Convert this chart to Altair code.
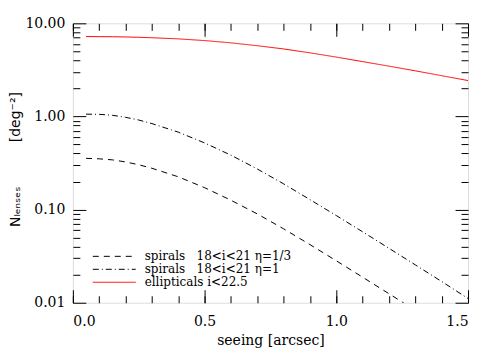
import altair as alt
import pandas as pd

# seeing values (arcsec)
seeing = [0.05, 0.1, 0.15, 0.2, 0.25, 0.3, 0.4, 0.5, 0.6, 0.7, 0.8, 0.9, 1.0, 1.1, 1.2, 1.3, 1.4, 1.5]

# N_lenses [deg^-2]
spirals_eta13 = [0.355, 0.351, 0.342, 0.325, 0.303, 0.278, 0.225, 0.172, 0.126, 0.0899, 0.0622, 0.0421, 0.0282, 0.0188, 0.0125, 0.00828, 0.0056, 0.0037]
spirals_eta1 = [1.059, 1.054, 1.030, 0.979, 0.916, 0.839, 0.679, 0.520, 0.384, 0.273, 0.189, 0.128, 0.0863, 0.0577, 0.0384, 0.0255, 0.0169, 0.0111]
ellipticals = [7.21, 7.19, 7.18, 7.14, 7.08, 7.00, 6.81, 6.53, 6.17, 5.75, 5.31, 4.82, 4.34, 3.88, 3.47, 3.09, 2.74, 2.43]

series_names = [
    "spirals\u00a0\u00a0\u00a018<i<21\u00a0\u03b7=1/3",
    "spirals\u00a0\u00a0\u00a018<i<21\u00a0\u03b7=1",
    "ellipticals\u00a0i<22.5",
]
series_colors = ["black", "black", "#ff0000"]
series_dashes = [[6, 5], [6, 3, 1, 3], [1, 0]]

y_major = [0.01, 0.1, 1, 10]
y_minor = [v * m for v in [0.01, 0.1, 1] for m in range(2, 10)]
x_major = [0.0, 0.5, 1.0, 1.5]
x_minor = [round(i * 0.1, 1) for i in range(16)]

rows = []
for name, vals in zip(series_names, [spirals_eta13, spirals_eta1, ellipticals]):
    for s, v in zip(seeing, vals):
        rows.append({"seeing": s, "N": v, "series": name})
df = pd.DataFrame(rows)

W, H = 396, 280
FONT = "DejaVu Serif"

xscale = alt.Scale(domain=[0, 1.5], nice=False, zero=False)
yscale = alt.Scale(type="log", domain=[0.01, 10], nice=False)

legend = alt.Legend(title=None, orient="none", legendX=19, legendY=227,
                    symbolType="stroke", symbolSize=1850,
                    symbolStrokeWidth=1, clipHeight=13, rowPadding=0,
                    labelFont=FONT, labelFontSize=12, labelOffset=8,
                    labelColor="black", padding=0)

ytitle = ("N\u2097\u2091\u2099\u209b\u2091\u209b" + "\u00a0" * 10 + "[deg\u207b\u00b2]")

lines = alt.Chart(df).mark_line(strokeWidth=1, clip=True).encode(
    x=alt.X("seeing:Q", scale=xscale,
            axis=alt.Axis(values=x_major, format=".1f", tickSize=0, labelPadding=12,
                          domain=False, grid=False, title="seeing [arcsec]",
                          titlePadding=5, titleFontSize=14, titleFont=FONT,
                          titleFontWeight="normal", labelFont=FONT, labelFontSize=14,
                          labelColor="black", titleColor="black")),
    y=alt.Y("N:Q", scale=yscale,
            axis=alt.Axis(values=y_major, format=".2f", tickSize=0, labelPadding=8,
                          domain=False, grid=False,
                          title=ytitle,
                          titleX=-57, titleY=136, titleAngle=270,
                          titleBaseline="middle", titleAlign="center",
                          titleFontSize=14, titleFont="DejaVu Sans",
                          titleFontWeight="normal", labelFont=FONT, labelFontSize=14,
                          labelColor="black", titleColor="black")),
    color=alt.Color("series:N", sort=series_names,
                    scale=alt.Scale(domain=series_names, range=series_colors),
                    legend=legend),
    strokeDash=alt.StrokeDash("series:N", sort=series_names,
                              scale=alt.Scale(domain=series_names, range=series_dashes),
                              legend=legend),
)


def tick_layer(xvals, yvals, size):
    base = alt.Chart(df).mark_point(opacity=0).encode(
        x=alt.X("seeing:Q", scale=xscale,
                axis=alt.Axis(values=xvals, orient="top", offset=-H, tickSize=size,
                              labels=False, domain=False, grid=False, title=None,
                              tickColor="black")),
        y=alt.Y("N:Q", scale=yscale,
                axis=alt.Axis(values=yvals, orient="right", offset=-W, tickSize=size,
                              labels=False, domain=False, grid=False, title=None,
                              tickColor="black")),
    )
    mirror = alt.Chart(df).mark_point(opacity=0).encode(
        x=alt.X("seeing:Q", scale=xscale,
                axis=alt.Axis(values=xvals, orient="bottom", offset=-H, tickSize=size,
                              labels=False, domain=False, grid=False, title=None,
                              tickColor="black")),
        y=alt.Y("N:Q", scale=yscale,
                axis=alt.Axis(values=yvals, orient="left", offset=-W, tickSize=size,
                              labels=False, domain=False, grid=False, title=None,
                              tickColor="black")),
    )
    return [base, mirror]


layers = [lines] + tick_layer(x_major, y_major, 13) + tick_layer(x_minor, y_minor, 7)

chart = alt.layer(*layers).resolve_axis(x="independent", y="independent").properties(
    width=W, height=H,
    autosize=alt.AutoSizeParams(type="none"),
    padding={"left": 65, "top": 15, "right": 15, "bottom": 45},
).configure_view(stroke="black", strokeWidth=1).configure(
    background="white", font=FONT
).configure_axis(labelFont=FONT, titleFont=FONT).configure_legend(labelFont=FONT)

chart.save("out.html", embed_options={"renderer": "svg", "actions": False})
